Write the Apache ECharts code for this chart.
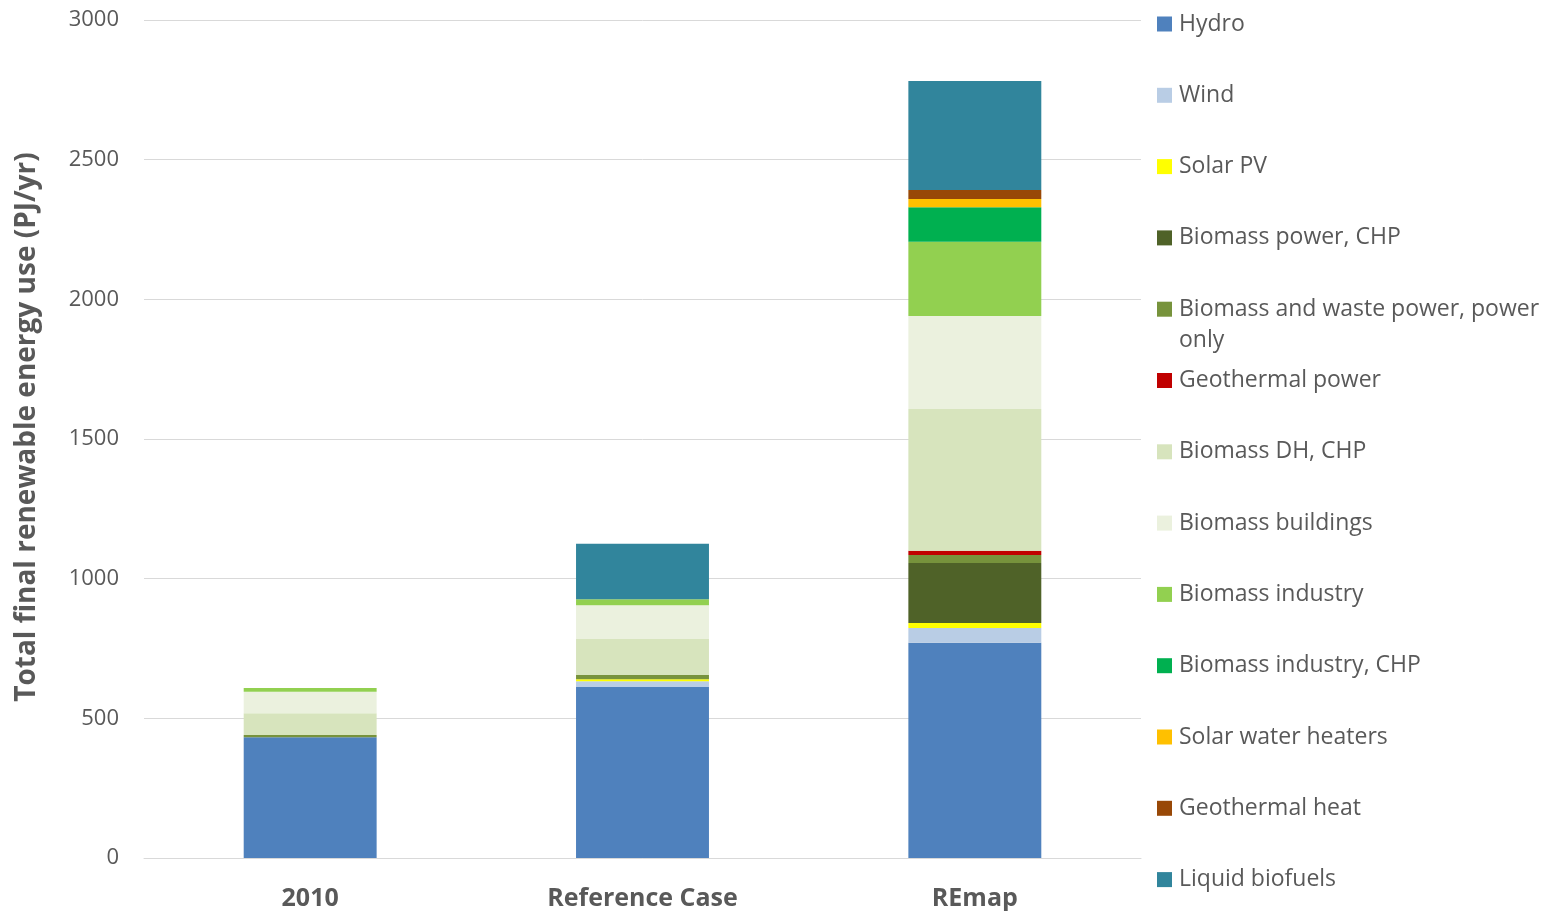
<!DOCTYPE html>
<html>
<head>
<meta charset="utf-8">
<script src="https://cdn.jsdelivr.net/npm/echarts@6/dist/echarts.min.js"></script>
<style>
  html, body { margin: 0; padding: 0; background: #fff; }
  #main { width: 1547px; height: 911px; }
</style>
</head>
<body>
<div id="main"></div>
<script>
// categories and values (PJ/yr)
var cases = ['2010', 'Reference Case', 'REmap'];

var names = ['Hydro', 'Wind', 'Solar PV', 'Biomass power, CHP',
    'Biomass and waste power, power only', 'Geothermal power', 'Biomass DH, CHP',
    'Biomass buildings', 'Biomass industry', 'Biomass industry, CHP',
    'Solar water heaters', 'Geothermal heat', 'Liquid biofuels'];

var hydro = [432, 612, 771];
var wind = [0, 21, 52];
var solarPV = [0, 7, 18];
var biomassPowerCHP = [0, 0, 215];
var biomassWastePower = [8, 15, 29];
var geothermalPower = [0, 0, 15];
var biomassDH = [78, 129, 507];
var biomassBuildings = [77, 121, 333];
var biomassIndustry = [14, 21, 266];
var biomassIndustryCHP = [0, 0, 124];
var solarWater = [0, 0, 29];
var geothermalHeat = [0, 0, 32];
var liquidBiofuels = [0, 199, 391];

var yTicks = [0, 500, 1000, 1500, 2000, 2500, 3000];

var values = [hydro, wind, solarPV, biomassPowerCHP, biomassWastePower, geothermalPower,
    biomassDH, biomassBuildings, biomassIndustry, biomassIndustryCHP, solarWater,
    geothermalHeat, liquidBiofuels];

var colors = ['#4F81BD', '#B9CDE5', '#FFFF00', '#4F6228', '#77933C', '#C00000',
    '#D7E4BD', '#EBF1DE', '#92D050', '#00B050', '#FFC000', '#984807', '#31859C'];

var txt = '#595959';
var font = 'Open Sans';

var series = [];
for (var i = 0; i < names.length; i++) {
    series.push({
        name: names[i],
        type: 'bar',
        stack: 'total',
        barWidth: '40%',
        itemStyle: { color: colors[i] },
        emphasis: { disabled: true },
        data: values[i]
    });
}

// one legend per entry so the wrapped one keeps the same spacing
var legends = [];
for (var j = 0; j < names.length; j++) {
    legends.push({
        data: [names[j]],
        orient: 'vertical',
        left: 1157,
        top: 12 + j * 71.3,
        padding: 0,
        itemWidth: 15,
        itemHeight: 15,
        icon: 'rect',
        selectedMode: false,
        formatter: function (n) {
            return n == 'Biomass and waste power, power only' ? 'Biomass and waste power, power' : n;
        },
        textStyle: { color: txt, fontSize: 23, fontFamily: font, lineHeight: 24, padding: [0, 0, 0, 2] }
    });
}

var option = {
    animation: false,
    color: colors,
    grid: { left: 144, right: 406, top: 20, bottom: 53 },
    legend: legends,
    graphic: [{
        type: 'text',
        left: 1179,
        top: 329,
        style: { text: 'only', fill: txt, font: '23px "Open Sans"' }
    }],
    xAxis: {
        type: 'category',
        data: cases,
        axisLine: { show: true, lineStyle: { color: '#D9D9D9' } },
        axisTick: { show: false },
        axisLabel: { color: txt, fontSize: 25, fontWeight: 'bold', fontFamily: font, margin: 28 }
    },
    yAxis: {
        type: 'value',
        min: 0,
        max: 3000,
        interval: 500,
        name: 'Total final renewable energy use (PJ/yr)',
        nameLocation: 'middle',
        nameGap: 103,
        nameTextStyle: { color: txt, fontSize: 28, fontWeight: 'bold', fontFamily: font,
            padding: [0, 0, 0, 24] },
        axisLine: { show: false },
        axisTick: { show: false },
        splitLine: { lineStyle: { color: '#D9D9D9' } },
        axisLabel: { color: txt, fontSize: 22, fontFamily: font, margin: 25,
            formatter: function (v) { return yTicks.indexOf(v) >= 0 ? String(v) : ''; } }
    },
    series: series
};

var chart = echarts.init(document.getElementById('main'));
chart.setOption(option);
</script>
</body>
</html>
